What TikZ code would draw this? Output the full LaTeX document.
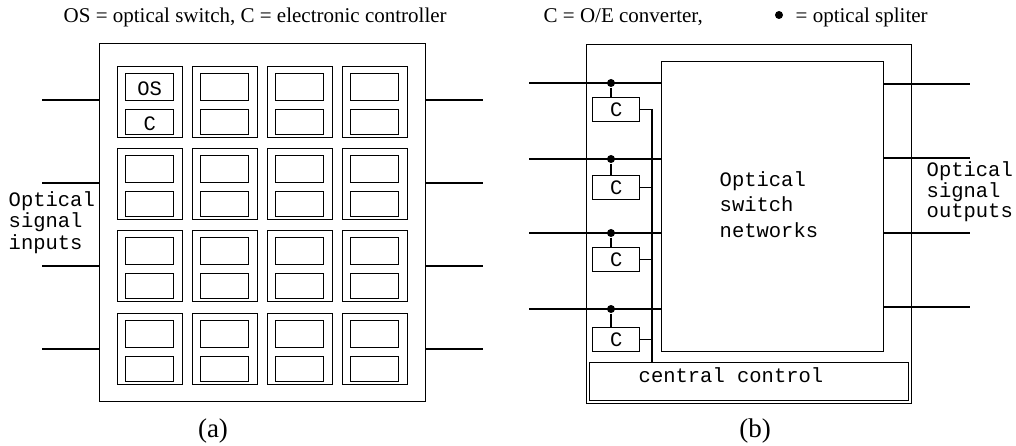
\documentclass[tikz,border=0pt]{standalone}
\usepackage{fontspec}
\setmainfont{Liberation Serif}
\setmonofont{Liberation Mono}
\begin{document}
\begin{tikzpicture}[x=1pt,y=-1pt,line width=1.4pt,
  frame/.style={draw,rectangle,inner sep=0pt,anchor=north west},
  cell/.style={frame,minimum width=65pt,minimum height=71pt},
  unit/.style={frame,minimum width=48pt},
  cbox/.style={frame,minimum width=47pt,minimum height=24pt,
    font=\ttfamily\fontsize{20.5}{21}\selectfont},
  dot/.style={circle,fill,inner sep=0pt,minimum size=8pt},
  serif/.style={inner sep=0pt,font=\fontsize{21}{25}\selectfont},
  tag/.style={inner sep=0pt,anchor=base,font=\fontsize{27}{30}\selectfont},
  mono/.style={inner sep=0pt,anchor=base west,font=\ttfamily\fontsize{20.5}{21}\selectfont}]
\useasboundingbox (0,0) rectangle (1016,446);

% ---------- (a) distributed switching array ----------
\node[serif,anchor=base west] (capA) at (63,23) {OS = optical switch, C = electronic controller};
\node[frame,minimum width=326pt,minimum height=358pt] (A) at (99,43) {};
\foreach \c in {0,...,3}{
  \foreach \r/\top in {0/66,1/148,2/230,3/313}{
    \node[cell] (cell-\r-\c) at ({117+75*\c},\top) {};
    \node[unit,minimum height=27pt] (os-\r-\c) at ([xshift=8pt,yshift=-7pt]cell-\r-\c.north west) {};
    \node[unit,minimum height=25pt] (ct-\r-\c) at ([xshift=8pt,yshift=-43pt]cell-\r-\c.north west) {};
  }
}
\node[mono,anchor=center,yshift=-1.5pt] (osl) at (os-0-0) {OS};
\node[mono,anchor=center,yshift=-1.5pt] (ctl) at (ct-0-0) {C};
\foreach \y [count=\i] in {100,183,266,349}{
  \coordinate (ina-\i) at (42,\y);
  \coordinate (outa-\i) at (483,\y);
  \draw (ina-\i) -- (ina-\i -| A.west);
  \draw (outa-\i -| A.east) -- (outa-\i);
}
\node[mono] (inl1) at (8,207) {Optical};
\node[mono] (inl2) at (8,228) {signal};
\node[mono] (inl3) at (8,249) {inputs};
\node[tag] (labA) at (213,437) {(a)};

% ---------- (b) central switch network ----------
\node[serif,anchor=base west] (capB1) at (543,23) {C = O/E converter,};
\node[dot] (capdot) at (779,15) {};
\node[serif,anchor=base west] (capB2) at (795,23) {= optical spliter};
\node[frame,minimum width=325pt,minimum height=359pt] (B) at (586,44) {};
\node[frame,minimum width=222pt,minimum height=290pt] (SW) at (661,61) {};
\node[frame,minimum width=319pt,minimum height=38pt] (CC) at (589,362) {};
\node[mono] (ccl) at (638,382) {central control};
\node[mono] (swl1) at (719,187) {Optical};
\node[mono] (swl2) at (719,212) {switch};
\node[mono] (swl3) at (719,237) {networks};

\coordinate (bus) at (652,109);
\draw (bus) -- (bus |- CC.north);
\foreach \t/\yin [count=\i] in {97/83,175/159,247/233,327/309}{
  \coordinate (inb-\i) at (529,\yin);
  \draw (inb-\i) -- (inb-\i -| SW.west);
  \node[dot] (sp-\i) at (611,\yin) {};
  \node[cbox] (conv-\i) at (592,\t) {C};
  \draw (sp-\i) -- (sp-\i |- conv-\i.north);
  \draw (conv-\i.east) -- (conv-\i.east -| bus);
}
\foreach \y [count=\i] in {84,158,233,307}{
  \coordinate (outb-\i) at (970,\y);
  \draw (outb-\i -| SW.east) -- (outb-\i);
}
\node[mono] (outl1) at (926,177) {Optical};
\node[mono] (outl2) at (926,198) {signal};
\node[mono] (outl3) at (926,218) {outputs};
\node[tag] (labB) at (755,437) {(b)};
\end{tikzpicture}
\end{document}
